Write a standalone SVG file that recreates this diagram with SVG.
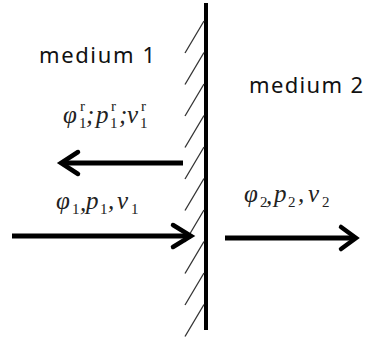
<svg xmlns="http://www.w3.org/2000/svg" width="370" height="341" viewBox="0 0 370 341">
<style>
.lbl{font-family:"Noto Sans","DejaVu Sans",sans-serif;font-size:22px;fill:#111}
.m{font-family:"Liberation Serif","Times New Roman",serif;font-style:italic;font-size:25px;fill:#222}
.s{font-size:15px;font-style:normal}
.arr{stroke:#000;stroke-width:5;fill:none;stroke-linecap:butt}
.head{stroke:#000;stroke-width:4.5;fill:none;stroke-linecap:round;stroke-linejoin:miter}
.hatch{stroke:#333;stroke-width:1.3}
</style>
<rect width="370" height="341" fill="#fff"/>
<g id="wall">
<line x1="206" y1="3" x2="206" y2="330" stroke="#000" stroke-width="4"/>
<g class="hatch">
<line x1="204" y1="21" x2="185" y2="53"/>
<line x1="204" y1="52.5" x2="185" y2="84.5"/>
<line x1="204" y1="84" x2="185" y2="116"/>
<line x1="204" y1="115.5" x2="185" y2="147.5"/>
<line x1="204" y1="147" x2="185" y2="179"/>
<line x1="204" y1="178.5" x2="185" y2="210.5"/>
<line x1="204" y1="210" x2="185" y2="242"/>
<line x1="204" y1="241.5" x2="185" y2="273.5"/>
<line x1="204" y1="273" x2="185" y2="305"/>
<line x1="204" y1="304.5" x2="185" y2="336.5"/>
</g>
</g>
<g id="medium1"><text class="lbl" x="39" y="63" textLength="116" lengthAdjust="spacing">medium 1</text></g>
<g id="medium2"><text class="lbl" x="249" y="93" textLength="114" lengthAdjust="spacing">medium 2</text></g>
<g id="connectors">
<g id="reflected">
<line class="arr" x1="183" y1="163" x2="62" y2="163"/>
<polyline class="head" points="78,152 61,163 78,174"/>
</g>
<g id="incident">
<line class="arr" x1="12" y1="236" x2="191" y2="236"/>
<polyline class="head" points="173,225 191,236 173,247"/>
</g>
<g id="transmitted">
<line class="arr" x1="225" y1="238" x2="355" y2="238"/>
<polyline class="head" points="341,227 356,238 341,249"/>
</g>
</g>
<g id="label-reflected">
<text class="m" y="123"><tspan x="63">φ</tspan><tspan class="s" x="79" y="128">1</tspan><tspan class="s" x="80" y="111">r</tspan><tspan x="86" y="123">;</tspan><tspan x="96">p</tspan><tspan class="s" x="110" y="128">1</tspan><tspan class="s" x="111" y="111">r</tspan><tspan x="119" y="123">;</tspan><tspan x="127">v</tspan><tspan class="s" x="140" y="128">1</tspan><tspan class="s" x="141" y="111">r</tspan></text>
</g>
<g id="label-incident">
<text class="m" y="209"><tspan x="56">φ</tspan><tspan class="s" x="72" y="214">1</tspan><tspan x="80" y="211">,</tspan><tspan x="86" y="209">p</tspan><tspan class="s" x="100" y="214">1</tspan><tspan x="108" y="209">,</tspan><tspan x="117">v</tspan><tspan class="s" x="131" y="214">1</tspan></text>
</g>
<g id="label-transmitted">
<text class="m" y="202"><tspan x="244">φ</tspan><tspan class="s" x="260" y="207">2</tspan><tspan x="266" y="204">,</tspan><tspan x="274" y="202">p</tspan><tspan class="s" x="288" y="207">2</tspan><tspan x="298" y="202">,</tspan><tspan x="308">v</tspan><tspan class="s" x="322" y="207">2</tspan></text>
</g>
</svg>
